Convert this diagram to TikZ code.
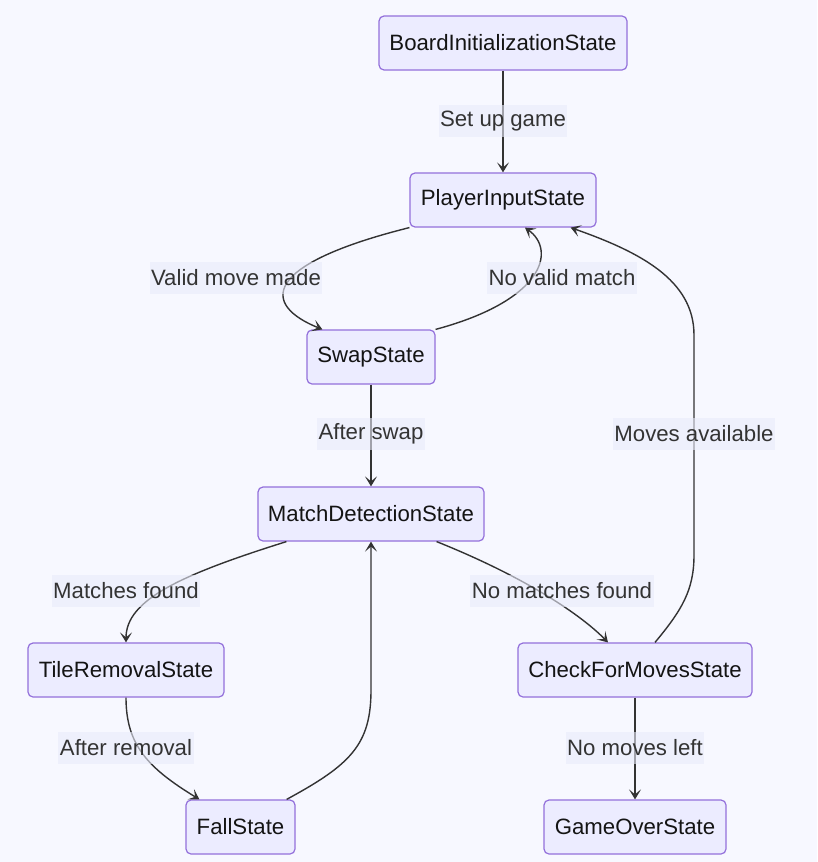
\documentclass[tikz,border=0pt]{standalone}
\usepackage{fontspec}
\setmainfont{Liberation Sans}
\usetikzlibrary{arrows.meta,calc}
\definecolor{bg}{HTML}{F7F8FF}
\definecolor{nodefill}{HTML}{ECECFF}
\definecolor{nodeborder}{HTML}{9370DB}
\definecolor{edgecol}{HTML}{333333}
\definecolor{labelfill}{HTML}{E9EBFA}
\begin{document}
\begin{tikzpicture}[x=1pt,y=-1pt,
  state/.style={draw=nodeborder, fill=nodefill, line width=1.2pt, rounded corners=5pt,
    minimum height=54pt, inner xsep=2pt, text=black!92, font=\fontsize{22.2}{26}\selectfont},
  edge/.style={draw=edgecol, line width=1.4pt, -{Stealth[length=10pt,width=12pt,inset=5pt]}},
  elabel/.style={fill=labelfill, fill opacity=0.6, text opacity=1, text=edgecol,
    inner xsep=1.5pt, inner ysep=0pt, minimum height=32pt, font=\fontsize{22.2}{26}\selectfont}
]
\fill[bg] (0,0) rectangle (817,862);
\useasboundingbox (0,0) rectangle (817,862);

% states
\node[state, minimum width=248pt] (bi) at (503,43) {BoardInitializationState};
\node[state, minimum width=186pt] (pi) at (503,200) {PlayerInputState};
\node[state, minimum width=128pt] (sw) at (371,357) {SwapState};
\node[state, minimum width=226pt] (md) at (371,514) {MatchDetectionState};
\node[state, minimum width=196pt] (tr) at (126,670) {TileRemovalState};
\node[state, minimum width=234pt] (cm) at (635,670) {CheckForMovesState};
\node[state, minimum width=109pt] (fa) at (240.5,827) {FallState};
\node[state, minimum width=182pt] (go) at (635,827) {GameOverState};

% edges
\draw[edge] (bi.south) -- (pi.north);
\draw[edge] (pi.south west) .. controls (260,265) and (262,305) .. ($(sw.north west)+(16,0)$);
\draw[edge] (sw.north east) .. controls (545,300) and (556,250) .. ($(pi.south)+(22,0)$);
\draw[edge] (sw.south) -- (md.north);
\draw[edge] ($(md.south west)+(29,0)$) .. controls (180,575) and (126,600) .. (tr.north);
\draw[edge] ($(md.south east)+(-48,0)$) .. controls (520,575) and (578,612) .. ($(cm.north)+(-27,0)$);
\draw[edge] (tr.south) .. controls (126,745) and (148,768) .. ($(fa.north west)+(14,0)$);
\draw[edge] ($(fa.north east)+(-9,0)$) .. controls (350,765) and (371,745) .. (371,690) -- (md.south);
\draw[edge] ($(cm.north)+(20,0)$) .. controls (682,610) and (694,590) .. (694,555) -- (694,335) .. controls (694,280) and (640,252) .. ($(pi.south east)+(-26,0)$);
\draw[edge] (cm.south) -- (go.north);

% edge labels
\node[elabel] (l1) at (503,121) {Set up game};
\node[elabel] (l2) at (236,278) {Valid move made};
\node[elabel] (l3) at (562,278) {No valid match};
\node[elabel] (l4) at (371,434) {After swap};
\node[elabel] (l5) at (126,591) {Matches found};
\node[elabel] (l6) at (562,591) {No matches found};
\node[elabel] (l7) at (126,748) {After removal};
\node[elabel] (l8) at (694,434) {Moves available};
\node[elabel] (l9) at (635,748) {No moves left};
\end{tikzpicture}
\end{document}
